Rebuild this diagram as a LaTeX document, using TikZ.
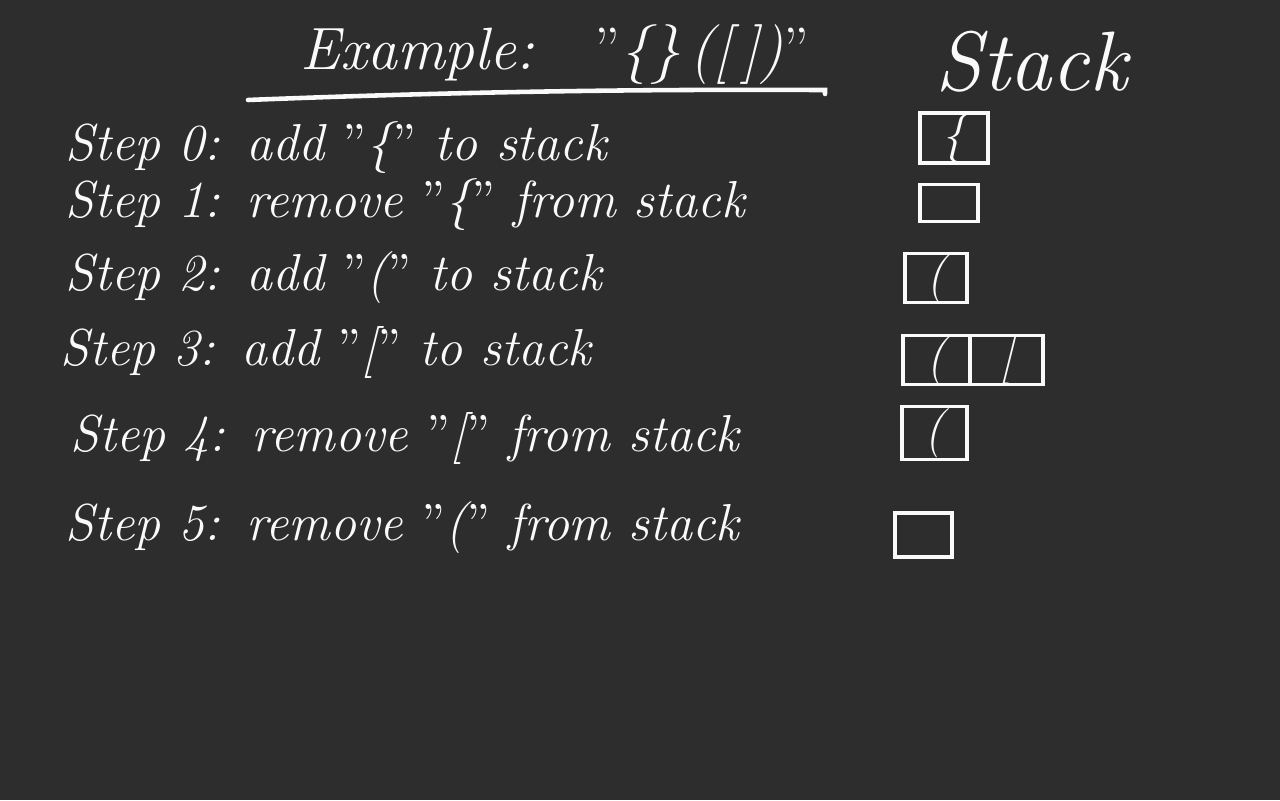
\documentclass[tikz,border=0pt]{standalone}
\usepackage{fontspec}
\usepackage{tikz}
\usetikzlibrary{positioning}

\definecolor{board}{HTML}{2D2D2D}
\definecolor{chalk}{HTML}{FAFAFA}

% comilla recta
\newcommand{\dq}{{\upshape\symbol{34}}}

\tikzset{
    steplabel/.style={anchor=west, inner sep=0pt, text=chalk, font=\fontsize{14.8}{18}\selectfont\itshape},
    cellbox/.style={draw=chalk, line width=1pt, inner sep=0pt, text=chalk, font=\fontsize{14}{16}\selectfont\itshape}
}

\begin{document}
\begin{tikzpicture}
    % Pizarra
    \useasboundingbox (0,0) rectangle (12.8,8);
    \fill[board] (0,0) rectangle (12.8,8);

    % Titulo
    \node[steplabel, font=\fontsize{17}{20}\selectfont\itshape] (title) at (3.0, 7.45) {Example:\quad \dq\{\}\,([\,])\dq};
    \draw[chalk, line width=1.3pt, line cap=round] (2.48, 7.0) .. controls (5.5, 7.12) and (7.5, 7.1) .. (8.25, 7.1) -- (8.25, 7.06);
    \node[anchor=west, inner sep=0pt, text=chalk, font=\fontsize{24}{28}\selectfont\itshape] (stack) at (9.35, 7.38) {Stack};

    % Pasos
    \node[steplabel] (step0) at (0.65, 6.52) {Step 0:\enspace add \dq\{\dq{} to stack};
    \node[steplabel] (step1) at (0.65, 5.95) {Step 1:\enspace remove \dq\{\dq{} from stack};
    \node[steplabel] (step2) at (0.65, 5.22) {Step 2:\enspace add \dq(\dq{} to stack};
    \node[steplabel] (step3) at (0.60, 4.47) {Step 3:\enspace add \dq[\dq{} to stack};
    \node[steplabel] (step4) at (0.70, 3.62) {Step 4:\enspace remove \dq[\dq{} from stack};
    \node[steplabel] (step5) at (0.65, 2.72) {Step 5:\enspace remove \dq(\dq{} from stack};

    % Pila
    \node[cellbox, minimum width=0.68cm, minimum height=0.50cm] (box0) at (9.54, 6.62) {\{};
    \node[cellbox, minimum width=0.58cm, minimum height=0.37cm] (box1) at (9.49, 5.97) {};
    \node[cellbox, minimum width=0.62cm, minimum height=0.47cm] (box2) at (9.36, 5.22) {(};
    \node[cellbox, minimum width=0.67cm, minimum height=0.45cm] (box3a) at (9.365, 4.40) {(};
    \node[cellbox, minimum width=0.73cm, minimum height=0.45cm, right=-1pt of box3a] (box3b) {[};
    \node[cellbox, minimum width=0.65cm, minimum height=0.53cm] (box4) at (9.345, 3.67) {(};
    \node[cellbox, minimum width=0.57cm, minimum height=0.44cm] (box5) at (9.235, 2.65) {};
\end{tikzpicture}
\end{document}
